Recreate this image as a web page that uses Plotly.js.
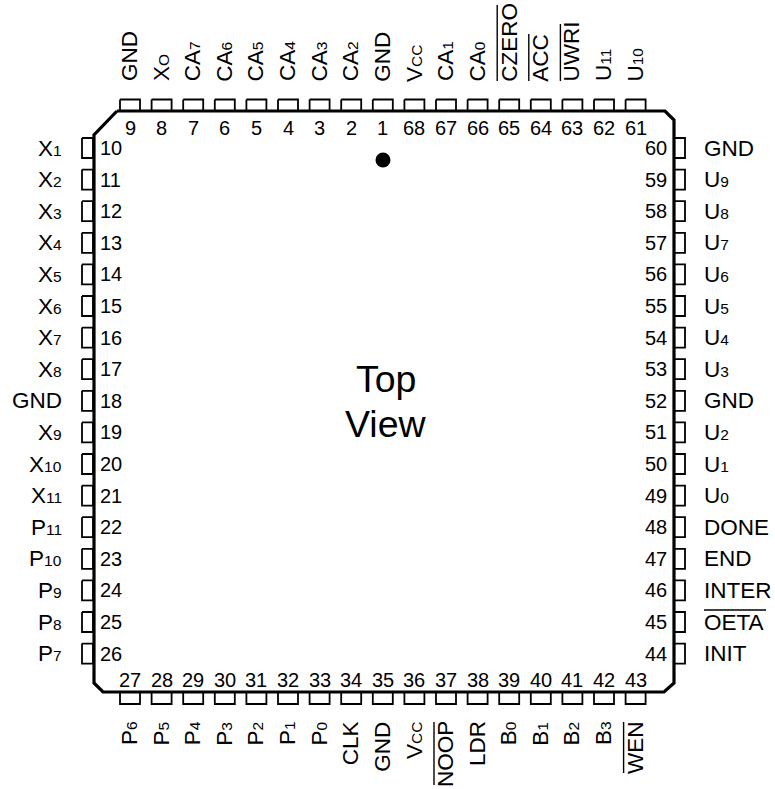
<!DOCTYPE html>
<html><head><meta charset="utf-8">
<style>html,body{margin:0;padding:0;background:#fff}#c{width:775px;height:789px}</style>
<script src="https://cdn.plot.ly/plotly-3.0.1.min.js"></script></head>
<body><div id="c"></div>
<script>
// labels: "X|1" = X with small suffix
const topNumbers=[9,8,7,6,5,4,3,2,1,68,67,66,65,64,63,62,61];
const topLabels=["GND","X|O","CA|7","CA|6","CA|5","CA|4","CA|3","CA|2","GND","V|CC","CA|1","CA|0","CZERO","ACC","UWRI","U|11","U|10"];
const leftNumbers=[10,11,12,13,14,15,16,17,18,19,20,21,22,23,24,25,26];
const leftLabels=["X|1","X|2","X|3","X|4","X|5","X|6","X|7","X|8","GND","X|9","X|10","X|11","P|11","P|10","P|9","P|8","P|7"];
const bottomNumbers=[27,28,29,30,31,32,33,34,35,36,37,38,39,40,41,42,43];
const bottomLabels=["P|6","P|5","P|4","P|3","P|2","P|1","P|0","CLK","GND","V|CC","NOOP","LDR","B|0","B|1","B|2","B|3","WEN"];
const rightNumbers=[60,59,58,57,56,55,54,53,52,51,50,49,48,47,46,45,44];
const rightLabels=["GND","U|9","U|8","U|7","U|6","U|5","U|4","U|3","GND","U|2","U|1","U|0","DONE","END","INTER","OETA","INIT"];
const activeLow=["CZERO","ACC","UWRI","NOOP","WEN","OETA"];
const bodyX=[117,665,674,674,664,103,94,94,117];
const bodyY=[111,111,120,683,692,692,683,135,111];
const centerWords=["Top","View"];

const FONT="Liberation Sans, Arial, sans-serif";
const LS=22.5, NS=20, SS=15.5;
const first=130, pitch=31.6, firstY=148;
const fmt=s=>{const p=s.split("|");return p.length>1?p[0]+'<span style="font-size:'+SS+'px">'+p[1]+'</span>':s;};
const ann=[];
function text(x,y,t,size,xa,ya,angle){ann.push({x,y,xref:"x",yref:"y",text:t,showarrow:false,xanchor:xa,yanchor:ya,textangle:angle||0,borderpad:0,borderwidth:0,font:{family:FONT,size,color:"#000"}});}
const pinX=[],pinY=[],barX=[],barY=[];
function rect(x0,y0,x1,y1){pinX.push(x0,x1,x1,x0,x0,null);pinY.push(y0,y0,y1,y1,y0,null);}
const barLen={CZERO:76,ACC:47,UWRI:57,NOOP:63,WEN:51,OETA:62};
topLabels.forEach((l,i)=>{const c=first+i*pitch;
  rect(c-10,99.5,c+10,111);
  text(c,128,String(topNumbers[i]),NS,"center","middle");
  text(c-0.5,81.5,fmt(l),LS,"center","bottom",-90);
  if(activeLow.includes(l)){barX.push(c-12,c-12,null);barY.push(81,81-barLen[l],null);}
});
bottomLabels.forEach((l,i)=>{const c=first+i*pitch;
  rect(c-10,692,c+10,704);
  text(c,680,String(bottomNumbers[i]),NS,"center","middle");
  text(c-0.5,721.5,fmt(l),LS,"center","top",-90);
  if(activeLow.includes(l)){barX.push(c-12,c-12,null);barY.push(722,722+barLen[l],null);}
});
leftLabels.forEach((l,i)=>{const c=firstY+i*pitch;
  rect(82,c-10,93,c+10);
  text(100,c,String(leftNumbers[i]),NS,"left","middle");
  text(62,c,fmt(l),LS,"right","middle");
});
rightLabels.forEach((l,i)=>{const c=firstY+i*pitch;
  rect(674,c-10,685,c+10);
  text(667,c,String(rightNumbers[i]),NS,"right","middle");
  text(703.5,c,fmt(l),LS,"left","middle");
  if(activeLow.includes(l)){barX.push(704,704+barLen[l],null);barY.push(c-12,c-12,null);}
});
text(385.5,379,centerWords[0],37.5,"center","middle");
text(385.5,424,centerWords[1],37.5,"center","middle");
const traces=[
 {x:pinX,y:pinY,mode:"lines",line:{color:"#000",width:1.8},hoverinfo:"skip"},
 {x:bodyX,y:bodyY,mode:"lines",line:{color:"#000",width:3.2},hoverinfo:"skip"},
 {x:barX,y:barY,mode:"lines",line:{color:"#000",width:1.4},hoverinfo:"skip"},
 {x:[383],y:[160],mode:"markers",marker:{color:"#000",size:15},hoverinfo:"skip"}
];
Plotly.newPlot("c",traces,{width:775,height:789,margin:{l:0,r:0,t:0,b:0},showlegend:false,paper_bgcolor:"#fff",plot_bgcolor:"#fff",
 xaxis:{range:[0,775],visible:false,fixedrange:true},yaxis:{range:[789,0],visible:false,fixedrange:true},annotations:ann},{displayModeBar:false,staticPlot:true});
</script></body></html>
